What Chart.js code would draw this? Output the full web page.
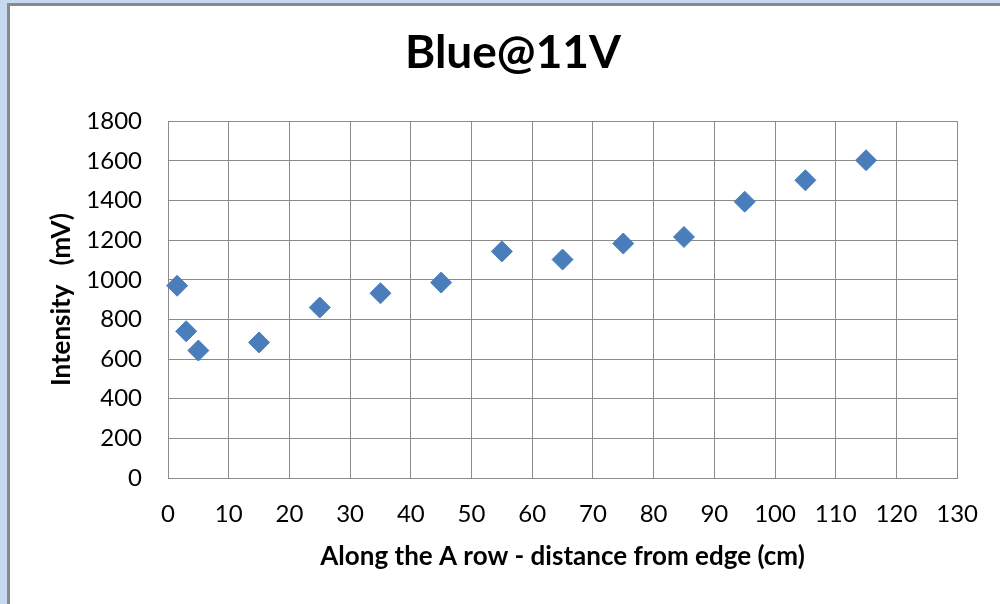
<!DOCTYPE html>
<html>
<head>
<meta charset="utf-8">
<script src="https://cdn.jsdelivr.net/npm/chart.js@4.4.0/dist/chart.umd.min.js"></script>
<style>
  html, body { margin: 0; padding: 0; }
  body { width: 1000px; height: 604px; overflow: hidden; background: #c6d9f0; position: relative; }
  .frame { position: absolute; left: 7px; top: 3px; width: 1100px; height: 700px;
           border-left: 3px solid #898989; border-top: 3px solid #898989; background: #ffffff; }
  #c { position: absolute; left: 0; top: 0; }
</style>
</head>
<body>
<div class="frame"></div>
<canvas id="c" width="1000" height="604"></canvas>
<script>
const titleText = 'Blue@11V';
const xAxisTitle = 'Along the A row - distance from edge (cm)';
const yAxisTitle = 'Intensity   (mV)';
const distance = [1.5, 3, 5, 15, 25, 35, 45, 55, 65, 75, 85, 95, 105, 115];
const intensity = [970, 740, 643, 684, 860, 932, 986, 1143, 1102, 1183, 1216, 1394, 1502, 1603];
const xTicks = [0, 10, 20, 30, 40, 50, 60, 70, 80, 90, 100, 110, 120, 130];
const yTicks = [0, 200, 400, 600, 800, 1000, 1200, 1400, 1600, 1800];

const points = distance.map((d, i) => ({ x: d, y: intensity[i] }));
const gridColor = '#8b8b8b';
const fam = 'Lato, "Noto Sans", sans-serif';

new Chart(document.getElementById('c'), {
  type: 'scatter',
  data: {
    datasets: [{
      data: points,
      pointStyle: 'rectRot',
      pointRadius: 10.5,
      pointHoverRadius: 10.5,
      backgroundColor: '#4a7ebb',
      borderColor: '#4a7ebb',
      borderWidth: 1,
      showLine: false,
      clip: false
    }]
  },
  options: {
    responsive: false,
    animation: false,
    devicePixelRatio: 1,
    layout: { padding: { left: 40, right: 14, top: 0, bottom: 0 } },
    plugins: {
      legend: { display: false },
      tooltip: { enabled: false },
      title: {
        display: true,
        text: titleText,
        color: '#000000',
        font: { family: fam, size: 46, weight: 'bold' },
        padding: { top: 26, bottom: 40 }
      }
    },
    scales: {
      x: {
        type: 'linear',
        min: xTicks[0],
        max: xTicks[xTicks.length - 1],
        afterBuildTicks: (s) => { s.ticks = xTicks.map(v => ({ value: v })); },
        afterFit: (s) => { s.height = 126; },
        grid: { color: gridColor, lineWidth: 1, drawTicks: false },
        border: { color: gridColor, width: 1 },
        ticks: { color: '#000000', font: { family: fam, size: 24 }, padding: 22, maxRotation: 0,
                 autoSkip: false, callback: (v) => String(v) },
        title: { display: true, text: xAxisTitle, color: '#000000',
                 font: { family: fam, size: 26, weight: 'bold' }, padding: { top: 0, bottom: 32 } }
      },
      y: {
        type: 'linear',
        position: 'left',
        min: yTicks[0],
        max: yTicks[yTicks.length - 1],
        afterBuildTicks: (s) => { s.ticks = yTicks.map(v => ({ value: v })); },
        afterFit: (s) => { s.width = 128; },
        grid: { color: gridColor, lineWidth: 1, drawTicks: false },
        border: { color: gridColor, width: 1 },
        ticks: { color: '#000000', font: { family: fam, size: 24 }, padding: 26,
                 autoSkip: false, callback: (v) => String(v) },
        title: { display: true, text: yAxisTitle, color: '#000000',
                 font: { family: fam, size: 26, weight: 'bold' }, padding: { top: 6, bottom: 0 } }
      },
      spacer: {
        type: 'linear',
        position: 'right',
        display: true,
        afterFit: (s) => { s.width = 26; },
        grid: { display: false, drawTicks: false },
        border: { display: false },
        ticks: { display: false }
      }
    }
  }
});
</script>
</body>
</html>
